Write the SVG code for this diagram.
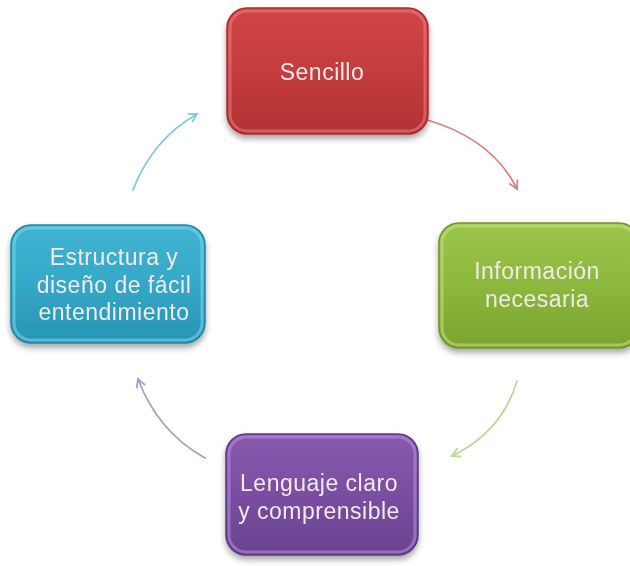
<svg xmlns="http://www.w3.org/2000/svg" width="630" height="566" viewBox="0 0 630 566">
<style>
.lbl{font-family:"Liberation Sans",Arial,sans-serif;font-size:23px;letter-spacing:0.5px;text-anchor:middle;fill:#f2eaea}
.box{stroke-width:1.5}
.hl{fill:none;stroke-width:3;stroke-opacity:0.55}
.conn{fill:none;stroke-width:1.8;stroke-linecap:round}
</style>
<defs>
<filter id="sh" x="-10%" y="-10%" width="120%" height="125%">
<feGaussianBlur in="SourceAlpha" stdDeviation="3"/>
<feOffset dy="4"/>
<feComponentTransfer><feFuncA type="linear" slope="0.35"/></feComponentTransfer>
<feMerge><feMergeNode/><feMergeNode in="SourceGraphic"/></feMerge>
</filter>
<linearGradient id="gR" x1="0" y1="0" x2="0" y2="1"><stop offset="0" stop-color="#d04646"/><stop offset="0.5" stop-color="#c53c3d"/><stop offset="1" stop-color="#b03233"/></linearGradient>
<linearGradient id="gG" x1="0" y1="0" x2="0" y2="1"><stop offset="0" stop-color="#9cc64c"/><stop offset="0.5" stop-color="#8cb83c"/><stop offset="1" stop-color="#7aa32f"/></linearGradient>
<linearGradient id="gP" x1="0" y1="0" x2="0" y2="1"><stop offset="0" stop-color="#865aac"/><stop offset="0.5" stop-color="#7a4ea1"/><stop offset="1" stop-color="#6a4290"/></linearGradient>
<linearGradient id="gB" x1="0" y1="0" x2="0" y2="1"><stop offset="0" stop-color="#42b4d2"/><stop offset="0.5" stop-color="#34a8c8"/><stop offset="1" stop-color="#2894b4"/></linearGradient>
<marker id="mR" viewBox="0 0 12 12" refX="10" refY="6" markerWidth="11" markerHeight="11" markerUnits="userSpaceOnUse" orient="auto"><path d="M1,1 L10,6 L1,11" fill="none" stroke="#d98486" stroke-width="2"/></marker>
<marker id="mG" viewBox="0 0 12 12" refX="10" refY="6" markerWidth="11" markerHeight="11" markerUnits="userSpaceOnUse" orient="auto"><path d="M1,1 L10,6 L1,11" fill="none" stroke="#bcd898" stroke-width="2"/></marker>
<marker id="mP" viewBox="0 0 12 12" refX="10" refY="6" markerWidth="11" markerHeight="11" markerUnits="userSpaceOnUse" orient="auto"><path d="M1,1 L10,6 L1,11" fill="none" stroke="#ac9cc8" stroke-width="2"/></marker>
<marker id="mB" viewBox="0 0 12 12" refX="10" refY="6" markerWidth="11" markerHeight="11" markerUnits="userSpaceOnUse" orient="auto"><path d="M1,1 L10,6 L1,11" fill="none" stroke="#88c8d8" stroke-width="2"/></marker>
</defs>
<rect width="630" height="566" fill="#ffffff"/>
<g id="connectors">
<path class="conn" d="M424,119 Q492,138 517,189" stroke="#d98486" marker-end="url(#mR)"/>
<path class="conn" d="M517,381 Q502,432 452,456" stroke="#bcd898" marker-end="url(#mG)"/>
<path class="conn" d="M205,458 Q158,432 138,379" stroke="#ac9cc8" marker-end="url(#mP)"/>
<path class="conn" d="M133,190 Q152,140 197,114" stroke="#88c8d8" marker-end="url(#mB)"/>
</g>
<g id="sencillo" filter="url(#sh)">
<rect class="box" x="227" y="8" width="201" height="126" rx="20" fill="url(#gR)" stroke="#a82c2e"/>
<rect class="hl" x="230" y="11" width="195" height="120" rx="17" stroke="#ee8080"/>
<text class="lbl" x="322" y="80">Sencillo</text>
</g>
<g id="informacion" filter="url(#sh)">
<rect class="box" x="439" y="223" width="200" height="125" rx="20" fill="url(#gG)" stroke="#6e952a"/>
<rect class="hl" x="442" y="226" width="194" height="119" rx="17" stroke="#c4e488"/>
<text class="lbl" x="537" y="279">Información</text>
<text class="lbl" x="537" y="307">necesaria</text>
</g>
<g id="lenguaje" filter="url(#sh)">
<rect class="box" x="226" y="434" width="192" height="121" rx="20" fill="url(#gP)" stroke="#5c3880"/>
<rect class="hl" x="229" y="437" width="186" height="115" rx="17" stroke="#b894dc"/>
<text class="lbl" x="319" y="491">Lenguaje claro</text>
<text class="lbl" x="319" y="519">y comprensible</text>
</g>
<g id="estructura" filter="url(#sh)">
<rect class="box" x="11" y="225" width="194" height="118" rx="20" fill="url(#gB)" stroke="#2284a2"/>
<rect class="hl" x="14" y="228" width="188" height="112" rx="17" stroke="#80d8ee"/>
<text class="lbl" x="114" y="265">Estructura y</text>
<text class="lbl" x="114" y="293">diseño de fácil</text>
<text class="lbl" x="114" y="320">entendimiento</text>
</g>
</svg>
